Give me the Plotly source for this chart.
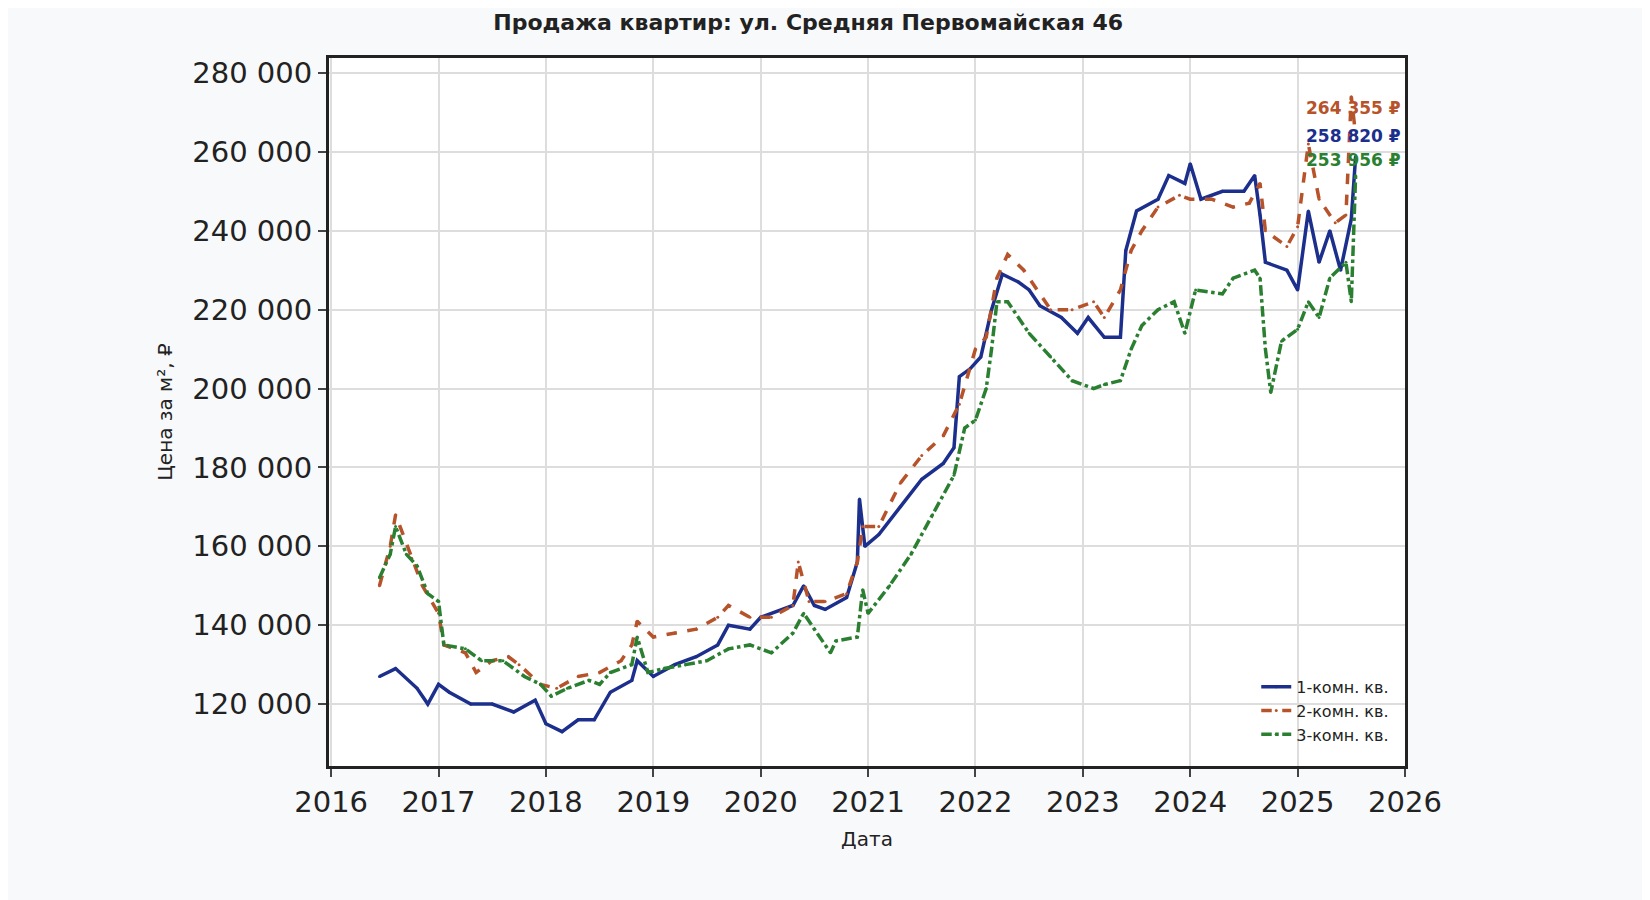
import plotly.graph_objects as go

# decimal years and prices (thousand rub per m2)
t1 = [2016.45, 2016.6, 2016.8, 2016.9, 2017.0, 2017.1, 2017.3, 2017.5, 2017.7, 2017.9, 2018.0, 2018.15,
      2018.3, 2018.45, 2018.6, 2018.8, 2018.85, 2019.0, 2019.2, 2019.4, 2019.6, 2019.7, 2019.9, 2020.0,
      2020.2, 2020.3, 2020.4, 2020.5, 2020.6, 2020.8, 2020.9, 2020.92, 2020.97, 2021.1, 2021.3, 2021.5,
      2021.7, 2021.8, 2021.85, 2021.95, 2022.05, 2022.15, 2022.25, 2022.4, 2022.5, 2022.6, 2022.8, 2022.95,
      2023.05, 2023.2, 2023.35, 2023.4, 2023.5, 2023.7, 2023.8, 2023.95, 2024.0, 2024.1, 2024.3, 2024.5,
      2024.6, 2024.65, 2024.7, 2024.9, 2025.0, 2025.1, 2025.2, 2025.3, 2025.4, 2025.5, 2025.54]
v1 = [127, 129, 124, 120, 125, 123, 120, 120, 118, 121, 115, 113,
      116, 116, 123, 126, 131, 127, 130, 132, 135, 140, 139, 142,
      144, 145, 150, 145, 144, 147, 156, 172, 160, 163, 170, 177,
      181, 185, 203, 205, 208, 220, 229, 227, 225, 221, 218, 214,
      218, 213, 213, 235, 245, 248, 254, 252, 257, 248, 250, 250,
      254, 244, 232, 230, 225, 245, 232, 240, 230, 243, 258.82]

t2 = [2016.45, 2016.55, 2016.6, 2016.75, 2016.85, 2017.0, 2017.05, 2017.25, 2017.35, 2017.5, 2017.65, 2017.75,
      2017.95, 2018.1, 2018.3, 2018.5, 2018.7, 2018.8, 2018.85, 2019.0, 2019.2, 2019.4, 2019.6, 2019.7,
      2019.9, 2020.1, 2020.3, 2020.35, 2020.45, 2020.6, 2020.8, 2020.9, 2020.95, 2021.1, 2021.3, 2021.5,
      2021.7, 2021.85, 2022.0, 2022.1, 2022.2, 2022.3, 2022.45, 2022.55, 2022.7, 2022.9, 2023.1, 2023.2,
      2023.35, 2023.45, 2023.55, 2023.7, 2023.9, 2024.0, 2024.2, 2024.4, 2024.55, 2024.65, 2024.7, 2024.9,
      2025.0, 2025.1, 2025.2, 2025.35, 2025.45, 2025.5, 2025.54]
v2 = [150, 160, 168, 157, 150, 143, 135, 133, 128, 131, 132, 130,
      125, 124, 127, 128, 131, 135, 141, 137, 138, 139, 142, 145,
      142, 142, 145, 156, 146, 146, 148, 156, 165, 165, 176, 183,
      188, 196, 210, 213, 228, 234, 230, 226, 220, 220, 222, 218,
      225, 235, 240, 246, 249, 248, 248, 246, 247, 252, 240, 236,
      241, 262, 248, 242, 244, 274, 264.355]

t3 = [2016.45, 2016.55, 2016.6, 2016.7, 2016.8, 2016.9, 2017.0, 2017.05, 2017.25, 2017.4, 2017.6, 2017.8,
      2017.95, 2018.05, 2018.2, 2018.4, 2018.5, 2018.6, 2018.8, 2018.85, 2018.95, 2019.1, 2019.3, 2019.5,
      2019.7, 2019.9, 2020.1, 2020.3, 2020.4, 2020.5, 2020.65, 2020.7, 2020.9, 2020.95, 2021.0, 2021.2,
      2021.4, 2021.6, 2021.8, 2021.9, 2022.0, 2022.1, 2022.15, 2022.2, 2022.3, 2022.5, 2022.7, 2022.9,
      2023.1, 2023.2, 2023.35, 2023.45, 2023.55, 2023.7, 2023.85, 2023.95, 2024.05, 2024.3, 2024.4, 2024.6,
      2024.65, 2024.7, 2024.75, 2024.85, 2025.0, 2025.1, 2025.2, 2025.3, 2025.45, 2025.5, 2025.54]
v3 = [152, 158, 165, 158, 155, 148, 146, 135, 134, 131, 131, 127,
      125, 122, 124, 126, 125, 128, 130, 137, 128, 129, 130, 131,
      134, 135, 133, 138, 143, 139, 133, 136, 137, 149, 143, 150,
      158, 168, 178, 190, 192, 200, 210, 222, 222, 214, 208, 202,
      200, 201, 202, 210, 216, 220, 222, 214, 225, 224, 228, 230,
      228, 210, 199, 212, 215, 222, 218, 228, 232, 222, 253.956]

names = ["1-комн. кв.", "2-комн. кв.", "3-комн. кв."]
colors = ["#1c2f8c", "#b7532a", "#2a7f30"]
dashes = ["solid", "dash", "dashdot"]
last_labels = ["258 820 ₽", "264 355 ₽", "253 956 ₽"]
label_y = [264, 271, 258]

fig = go.Figure()
for t, v, n, c, d in zip([t1, t2, t3], [v1, v2, v3], names, colors, dashes):
    fig.add_trace(go.Scatter(
        x=t, y=[x * 1000 for x in v], name=n, mode="lines+markers",
        line=dict(color=c, width=3.5, dash=d), marker=dict(size=3, color=c),
    ))

for lab, y, c in zip(last_labels, label_y, colors):
    fig.add_annotation(x=2025.98, y=y * 1000, text="<b>" + lab + "</b>", showarrow=False,
                       xanchor="right", font=dict(size=17, color=c))

yt = list(range(120000, 280001, 20000))
fig.update_layout(
    width=1650, height=900,
    paper_bgcolor="#f8f9fb", plot_bgcolor="white",
    font=dict(family="DejaVu Sans", color="#222"),
    title=dict(text="<b>Продажа квартир: ул. Средняя Первомайская 46</b>", x=0.485, y=0.993,
               yanchor="top", font=dict(size=22)),
    margin=dict(l=321, r=253, t=50, b=142),
    showlegend=True,
    legend=dict(x=0.99, y=0.02, xanchor="right", yanchor="bottom", bgcolor="rgba(255,255,255,0)",
                font=dict(size=16)),
)
fig.update_xaxes(range=[2015.98, 2026.0], tickvals=list(range(2016, 2027)), tickfont=dict(size=29),
                 title=dict(text="Дата", font=dict(size=20)), showgrid=True, gridcolor="#dddddd",
                 gridwidth=2, showline=True, linecolor="#222", linewidth=3, mirror=True,
                 ticks="outside", ticklen=8, tickwidth=2, zeroline=False)
fig.update_yaxes(range=[104300, 283800], tickvals=yt,
                 ticktext=[f"{v:,}".replace(",", " ") for v in yt], tickfont=dict(size=29),
                 title=dict(text="Цена за м², ₽", font=dict(size=20)), showgrid=True,
                 gridcolor="#dddddd", gridwidth=2, showline=True, linecolor="#222", linewidth=3,
                 mirror=True, ticks="outside", ticklen=8, tickwidth=2, zeroline=False)

fig.write_html("out.html")
